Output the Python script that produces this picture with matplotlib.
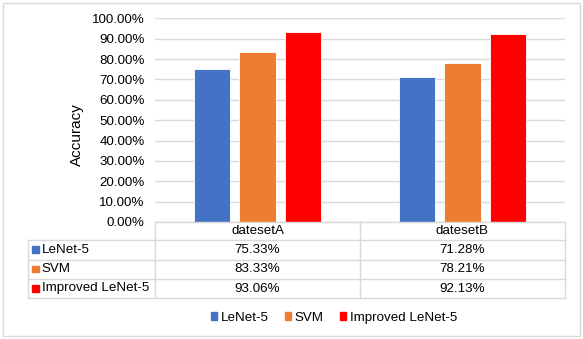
import matplotlib
matplotlib.use("Agg")
import matplotlib.pyplot as plt
import numpy as np
from matplotlib.lines import Line2D
from matplotlib.patches import Rectangle, Patch

plt.rcParams['font.family'] = ['Liberation Sans', 'DejaVu Sans']

categories = ["datesetA", "datesetB"]
series_names = ["LeNet-5", "SVM", "Improved LeNet-5"]
lenet5 = [0.7533, 0.7128]
svm = [0.8333, 0.7821]
improved = [0.9306, 0.9213]
series_values = [lenet5, svm, improved]
colors = ["#4472C4", "#ED7D31", "#FF0000"]
y_ticks = [0.0, 0.1, 0.2, 0.3, 0.4, 0.5, 0.6, 0.7, 0.8, 0.9, 1.0]

W, H = 583, 339
fig = plt.figure(figsize=(W / 100, H / 100), dpi=100)

def fx(x):
    return x / W

def fy(y):
    return 1 - y / H

# plot area in pixels
L, R, T, B = 155, 565, 18.3, 222
ax = fig.add_axes([fx(L), fy(B), fx(R) - fx(L), fy(T) - fy(B)])

x = np.arange(len(categories))
offset = 0.224
width = 0.176
for i, (name, vals, c) in enumerate(zip(series_names, series_values, colors)):
    ax.bar(x + (i - 1) * offset, vals, width, color=c, edgecolor='white',
           linewidth=0.6, zorder=3, label=name)

ax.set_xlim(-0.5, len(categories) - 0.5)
ax.set_ylim(0, 1.0)
ax.set_yticks(y_ticks)
ax.set_yticklabels([f"{v*100:.2f}%" for v in y_ticks], fontsize=9.6, color='#000000')
ax.tick_params(axis='y', length=0, pad=7.5)
ax.set_xticks([])
ax.yaxis.grid(True, color='#d9d9d9', linewidth=1.0, zorder=0)
for s in ax.spines.values():
    s.set_visible(False)
ax.set_ylabel("Accuracy", fontsize=11)
ax.yaxis.set_label_coords(-(155 - 84) / 410, 0.43)

# table
line_c = '#d9d9d9'
rows_y = [222, 240, 259.5, 279, 298]
col_x = [28, 155, 360, 565]

def hline(x0, x1, y):
    fig.add_artist(Line2D([fx(x0), fx(x1)], [fy(y), fy(y)], color=line_c, lw=1.0,
                          transform=fig.transFigure))

def vline(x, y0, y1):
    fig.add_artist(Line2D([fx(x), fx(x)], [fy(y0), fy(y1)], color=line_c, lw=1.0,
                          transform=fig.transFigure))

hline(col_x[1], col_x[3], rows_y[0])
for y in rows_y[1:]:
    hline(col_x[0], col_x[3], y)
vline(col_x[0], rows_y[1], rows_y[-1])
for cx in col_x[1:]:
    vline(cx, rows_y[0], rows_y[-1])

for j, cat in enumerate(categories):
    xc = (col_x[j + 1] + col_x[j + 2]) / 2
    fig.text(fx(xc), fy((rows_y[0] + rows_y[1]) / 2), cat, ha='center', va='center',
             fontsize=9.6)

for i, (name, vals, c) in enumerate(zip(series_names, series_values, colors)):
    yc = (rows_y[i + 1] + rows_y[i + 2]) / 2
    fig.add_artist(Rectangle((fx(32), fy(yc + 3)), fx(6.5), 6.5 / H, color=c,
                             transform=fig.transFigure))
    fig.text(fx(41.5), fy(yc), name, ha='left', va='center', fontsize=9.6)
    for j, v in enumerate(vals):
        xc = (col_x[j + 1] + col_x[j + 2]) / 2
        fig.text(fx(xc), fy(yc), f"{v*100:.2f}%", ha='center', va='center', fontsize=9.6)

# legend
handles = [Patch(color=c) for c in colors]
fig.legend(handles, series_names, loc='center', bbox_to_anchor=(fx(334), fy(318)),
           ncol=3, frameon=False, fontsize=9.6, handlelength=0.5, handleheight=0.5,
           handletextpad=0.25, columnspacing=1.2)

# outer frame
fig.add_artist(Rectangle((fx(3), fy(336)), fx(577), 333 / H, fill=False,
                         edgecolor='#d9d9d9', lw=1.0, transform=fig.transFigure))

fig.savefig("out.png", dpi=100)
